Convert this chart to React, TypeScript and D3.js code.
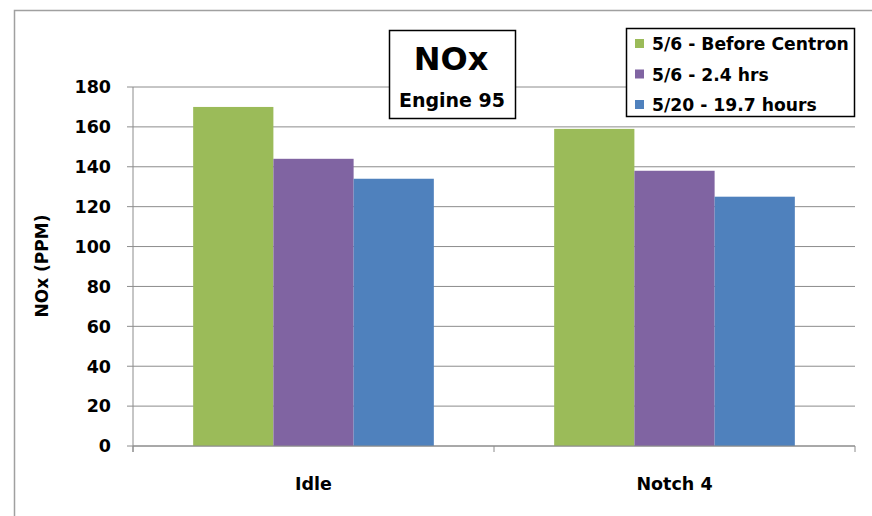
import React, { useEffect } from "react";
import * as d3 from "d3";

const categories = ["Idle", "Notch 4"];
const seriesNames = ["5/6 - Before Centron", "5/6 - 2.4 hrs", "5/20 - 19.7 hours"];
const seriesColors = ["#9BBB59", "#8064A2", "#4F81BD"];
const beforeCentron = [170, 159];
const hrs24 = [144, 138];
const hours197 = [134, 125];
const yTicks = [0, 20, 40, 60, 80, 100, 120, 140, 160, 180];

const W = 872;
const H = 516;
const FONT = "'DejaVu Sans', Arial, sans-serif";

export default function App() {
  useEffect(() => {
    document.body.style.margin = "0";
  }, []);

  const series = [beforeCentron, hrs24, hours197];
  const left = 133, right = 855, top = 87, bottom = 446;
  const y = d3.scaleLinear().domain([0, 180]).range([bottom, top]);
  const x0 = d3.scaleBand<string>().domain(categories).range([left, right]).padding(0);
  const bw = x0.bandwidth();
  const barW = bw / (series.length + 1.5);
  const x1 = d3
    .scaleBand<number>()
    .domain(d3.range(series.length))
    .range([(bw - barW * series.length) / 2, (bw + barW * series.length) / 2])
    .padding(0);

  const grid = "#8c8c8c";

  return (
    <svg width={W} height={H} style={{ display: "block", background: "#fff" }} fontFamily={FONT}>
      {/* outer chart area border */}
      <path d={`M${W},10.5 H14.5 V${H}`} fill="none" stroke="#a0a0a0" strokeWidth={1.5} />

      {/* gridlines */}
      {yTicks.map((t) => (
        <line key={"g" + t} x1={left - 6} x2={right} y1={y(t)} y2={y(t)} stroke={grid} strokeWidth={1} />
      ))}
      {/* y tick labels */}
      {yTicks.map((t) => (
        <text key={"t" + t} x={111} y={y(t)} dy="0.36em" textAnchor="end" fontSize={17.5} fontWeight="bold" fill="#000">
          {t}
        </text>
      ))}
      {/* y axis */}
      <line x1={left} x2={left} y1={top} y2={bottom + 6} stroke={grid} />
      {/* x tick marks */}
      {[...categories.map((c) => x0(c) as number), right].map((v, i) => (
        <line key={"xt" + i} x1={v} x2={v} y1={bottom} y2={bottom + 6} stroke={grid} />
      ))}

      {/* bars */}
      {categories.map((c, ci) => (
        <g key={c} transform={`translate(${x0(c)},0)`}>
          {series.map((s, si) => (
            <rect
              key={si}
              x={x1(si)}
              width={x1.bandwidth()}
              y={y(s[ci])}
              height={y(0) - y(s[ci])}
              fill={seriesColors[si]}
            />
          ))}
        </g>
      ))}
      {/* x axis line */}
      <line x1={left} x2={right} y1={bottom} y2={bottom} stroke={grid} />

      {/* category labels */}
      {categories.map((c) => (
        <text key={"c" + c} x={(x0(c) as number) + bw / 2} y={490} textAnchor="middle" fontSize={17.5} fontWeight="bold">
          {c}
        </text>
      ))}

      {/* y axis title */}
      <text transform="translate(48,266) rotate(-90)" textAnchor="middle" fontSize={17} fontWeight="bold">
        NOx  (PPM)
      </text>

      {/* title box */}
      <rect x={389.5} y={30.5} width={126} height={88} fill="#fff" stroke="#000" strokeWidth={1.5} />
      <text x={451} y={70} textAnchor="middle" fontSize={32} fontWeight="bold">NOx</text>
      <text x={452} y={107} textAnchor="middle" fontSize={19} fontWeight="bold">Engine 95</text>

      {/* legend */}
      <rect x={626.5} y={28.5} width={228} height={88} fill="#fff" stroke="#000" strokeWidth={1.5} />
      {seriesNames.map((n, i) => {
        const cy = 44 + i * 30.5;
        return (
          <g key={n}>
            <rect x={635} y={cy - 5} width={9} height={9} fill={seriesColors[i]} />
            <text x={652} y={cy} dy="0.36em" fontSize={17.2} fontWeight="bold">
              {n}
            </text>
          </g>
        );
      })}
    </svg>
  );
}
